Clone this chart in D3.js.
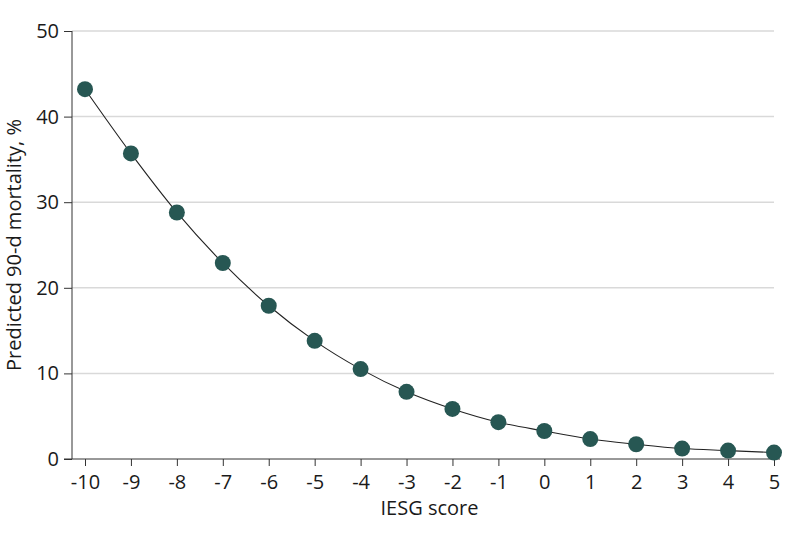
<!DOCTYPE html>
<html>
<head>
<meta charset="utf-8">
<script src="https://cdn.jsdelivr.net/npm/d3@7"></script>
<style>
  body { margin: 0; background: #fff; }
  svg text { font-family: "Open Sans", sans-serif; fill: #1a1a1a; }
</style>
</head>
<body>
<svg class="mortality-ch"></svg>
<script>
"use strict";

// IESG score and predicted 90-day mortality (%)
var scores = [-10, -9, -8, -7, -6, -5, -4, -3, -2, -1, 0, 1, 2, 3, 4, 5];
var mortality = [43.2, 35.7, 28.8, 22.9, 17.9, 13.8, 10.5, 7.85, 5.85, 4.3, 3.27, 2.33, 1.72, 1.22, 0.98, 0.75];
var yTicks = [0, 10, 20, 30, 40, 50];

var data = scores.map(function(s, i){ return {score: s, value: mortality[i]}; });

var svg = d3.select('.mortality-ch')
  .attr('width', 794)
  .attr('height', 546);

var x = d3.scaleLinear()
  .domain([-10, 5])
  .range([85, 774]);

var y = d3.scaleLinear()
  .domain([0, 50])
  .range([459, 31]);

var axisLeftX = 72;

// gridlines
svg.append('g').selectAll('line')
  .data(yTicks.filter(function(d){ return d > 0; }))
  .enter().append('line')
    .attr('x1', axisLeftX)
    .attr('x2', 774)
    .attr('y1', function(d){ return y(d); })
    .attr('y2', function(d){ return y(d); })
    .style('stroke', '#d9d9d9')
    .style('stroke-width', 1.5);

// y axis
var yAxis = d3.axisLeft(y).tickValues(yTicks).tickSize(8).tickSizeOuter(0).tickPadding(5);
var gy = svg.append('g')
  .attr('transform', 'translate(' + axisLeftX + ',0)')
  .call(yAxis);
gy.select('.domain').attr('d', 'M0,' + y(50) + 'V' + y(0)).style('stroke', '#333');
gy.selectAll('.tick line').style('stroke', '#333');
gy.selectAll('text').style('font-size', '20px').attr('fill', '#1a1a1a');

// x axis
var xAxis = d3.axisBottom(x).tickValues(scores).tickSize(7).tickSizeOuter(0).tickPadding(9)
  .tickFormat(function(d){ return d < 0 ? '-' + Math.abs(d) : d; });
var gx = svg.append('g')
  .attr('transform', 'translate(0,' + y(0) + ')')
  .call(xAxis);
gx.select('.domain').attr('d', 'M' + (axisLeftX - 8) + ',0H780').style('stroke', '#333');
gx.selectAll('.tick line').style('stroke', '#333');
gx.selectAll('text').style('font-size', '20px').attr('fill', '#1a1a1a');

// line
var line = d3.line()
  .x(function(d){ return x(d.score); })
  .y(function(d){ return y(d.value); })
  .curve(d3.curveMonotoneX);

svg.append('path')
  .datum(data)
  .attr('d', line)
  .style('fill', 'none')
  .style('stroke', '#222')
  .style('stroke-width', 1.1);

svg.append('g').selectAll('circle')
  .data(data)
  .enter().append('circle')
    .attr('cx', function(d){ return x(d.score); })
    .attr('cy', function(d){ return y(d.value); })
    .attr('r', 8)
    .style('fill', '#275753');

// axis titles
svg.append('text')
  .attr('x', (x(-10) + x(5)) / 2)
  .attr('y', 515)
  .attr('text-anchor', 'middle')
  .style('font-size', '20px')
  .text('IESG score');

svg.append('text')
  .attr('transform', 'translate(21,' + (y(0) + y(50)) / 2 + ') rotate(-90)')
  .attr('text-anchor', 'middle')
  .style('font-size', '20px')
  .text('Predicted 90-d mortality, %');
</script>
</body>
</html>
